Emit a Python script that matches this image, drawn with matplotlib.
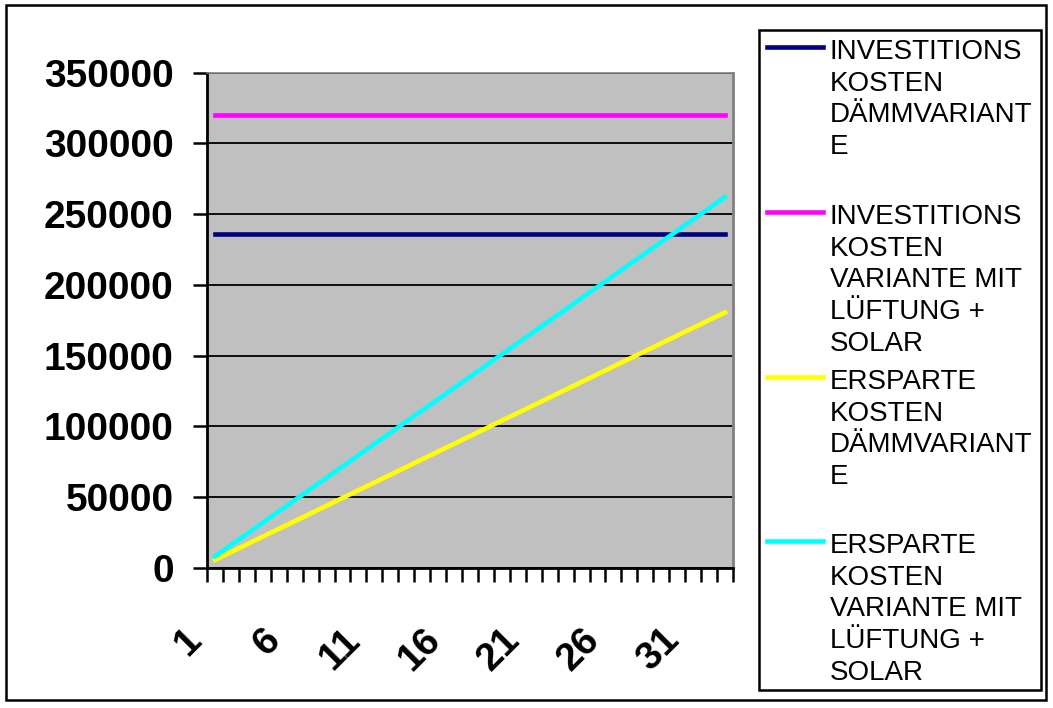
import matplotlib.pyplot as plt
from matplotlib.lines import Line2D
from matplotlib.patches import Rectangle
from matplotlib.transforms import ScaledTranslation

BG = '#c0c0c0'
NAVY = '#000080'
MAGENTA = '#ff00ff'
YELLOW = '#ffff00'
CYAN = '#00ffff'

years = list(range(1, 34))

invest_daemm = [235700] * 33
invest_lueftung = [319900] * 33
ersparnis_daemm = [
    5470, 10940, 16410, 21880, 27350, 32820, 38290, 43760, 49230, 54700,
    60170, 65640, 71110, 76580, 82050, 87520, 92990, 98460, 103930, 109400,
    114870, 120340, 125810, 131280, 136750, 142220, 147690, 153160, 158630,
    164100, 169570, 175040, 180510,
]
ersparnis_lueftung = [
    7940, 15880, 23820, 31760, 39700, 47640, 55580, 63520, 71460, 79400,
    87340, 95280, 103220, 111160, 119100, 127040, 134980, 142920, 150860,
    158800, 166740, 174680, 182620, 190560, 198500, 206440, 214380, 222320,
    230260, 238200, 246140, 254080, 262020,
]

legend_labels = [
    ['INVESTITIONS', 'KOSTEN', 'DÄMMVARIANT', 'E'],
    ['INVESTITIONS', 'KOSTEN', 'VARIANTE MIT', 'LÜFTUNG +', 'SOLAR'],
    ['ERSPARTE', 'KOSTEN', 'DÄMMVARIANT', 'E'],
    ['ERSPARTE', 'KOSTEN', 'VARIANTE MIT', 'LÜFTUNG +', 'SOLAR'],
]
series = [invest_daemm, invest_lueftung, ersparnis_daemm, ersparnis_lueftung]
colors = [NAVY, MAGENTA, YELLOW, CYAN]

W, H = 1053, 708
fig = plt.figure(figsize=(W / 100, H / 100), dpi=100, facecolor='white')
plt.rcParams['font.family'] = ['Liberation Sans', 'DejaVu Sans']

ax = fig.add_axes([207 / W, 1 - 567.6 / H, 526 / W, (567.6 - 72.7) / H])
ax.set_facecolor(BG)

for vals, col in zip(series, colors):
    ax.plot(years, vals, color=col, lw=3.3, solid_capstyle='projecting', zorder=3)

ax.set_xlim(0.5, 33.5)
ax.set_ylim(0, 350000)
ax.set_yticks(range(0, 350001, 50000))
ax.grid(axis='y', color='black', lw=1.3, zorder=1)
ax.set_axisbelow(True)

# category labels every 5 years, tick marks between categories
ax.set_xticks(range(1, 34, 5))
ax.set_xticks([x + 0.5 for x in range(0, 34)], minor=True)
ax.tick_params(axis='x', which='major', length=0, pad=48)
ax.tick_params(axis='x', which='minor', length=10, width=1.8, color='black')
shift = ScaledTranslation(-14 / 72, 0, fig.dpi_scale_trans)
for lbl in ax.get_xticklabels():
    lbl.set_rotation(45)
    lbl.set_ha('right')
    lbl.set_va('center')
    lbl.set_rotation_mode('anchor')
    lbl.set_fontsize(28)
    lbl.set_fontweight('bold')
    lbl.set_transform(lbl.get_transform() + shift)

ax.tick_params(axis='y', length=10, width=1.8, color='black', pad=14)
for lbl in ax.get_yticklabels():
    lbl.set_fontsize(28)
    lbl.set_fontweight('bold')

ax.spines['left'].set_linewidth(2)
ax.spines['bottom'].set_linewidth(2)
ax.spines['top'].set_color('#808080')
ax.spines['right'].set_color('#808080')
ax.spines['top'].set_linewidth(1.2)
ax.spines['right'].set_linewidth(2)

# legend box drawn in pixel coordinates of the figure
def px(x, y):
    return x / W, 1 - y / H

lx0, ly0, lx1, ly1 = 759, 30, 1041, 690
fig.add_artist(Rectangle(px(lx0, ly1), (lx1 - lx0) / W, (ly1 - ly0) / H,
                         transform=fig.transFigure, facecolor='white',
                         edgecolor='black', lw=1.8))
entry_top = [47, 212, 377, 541]
for top, col, lines in zip(entry_top, colors, legend_labels):
    x0, y0 = px(767, top)
    x1, _ = px(823, top)
    fig.add_artist(Line2D([x0, x1], [y0, y0], color=col, lw=3.3,
                          transform=fig.transFigure))
    for k, line in enumerate(lines):
        tx, ty = px(830, top + 5 + k * 31.7)
        fig.text(tx, ty, line, fontsize=20, ha='left', va='center', color='black')

# outer chart frame
fig.add_artist(Rectangle(px(6, 700), 1040 / W, 695 / H, transform=fig.transFigure,
                         facecolor='none', edgecolor='black', lw=1.8))

fig.savefig('out.png', dpi=100, facecolor='white')
